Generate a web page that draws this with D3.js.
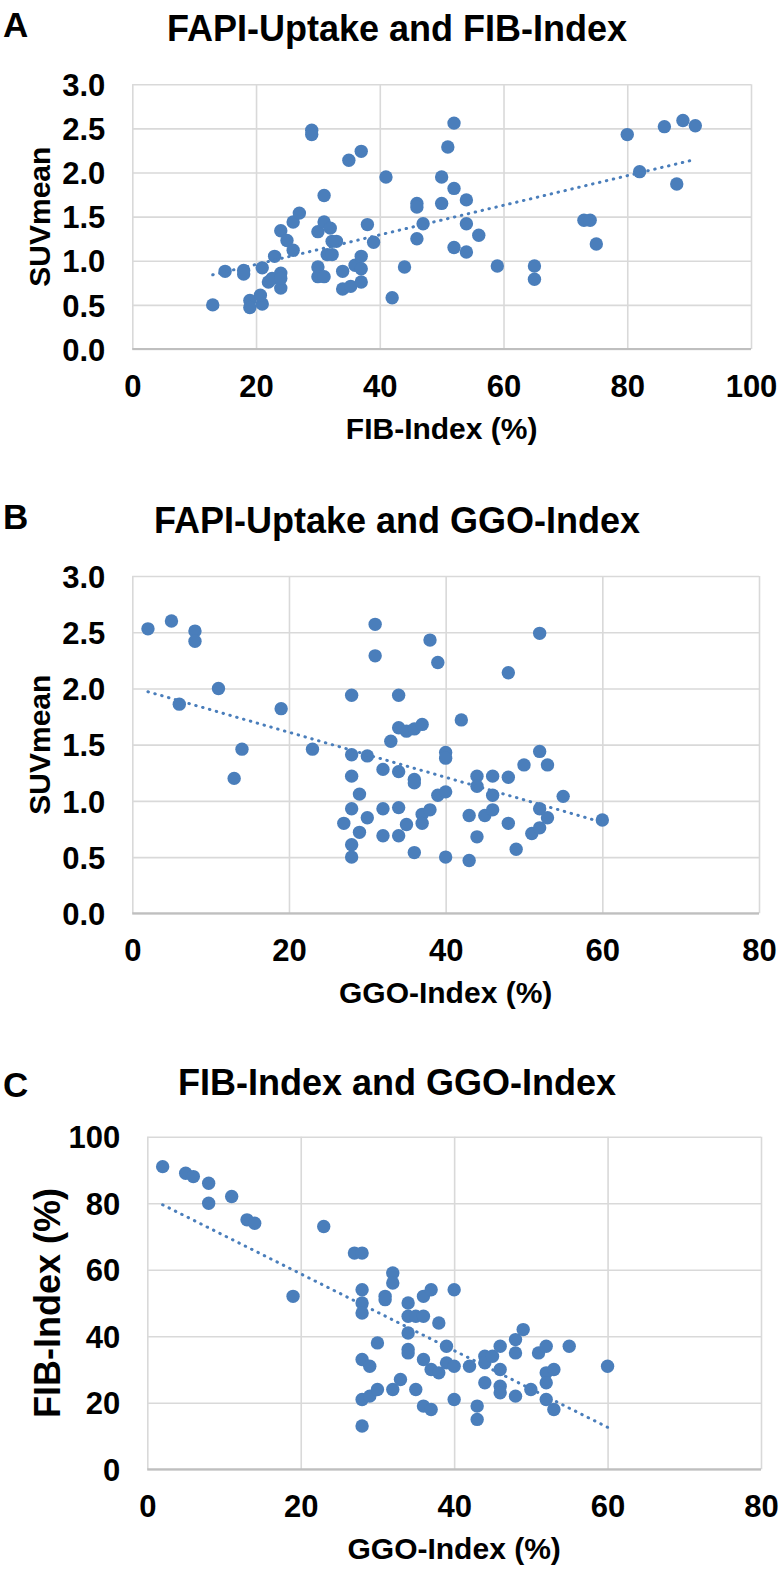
<!DOCTYPE html>
<html><head><meta charset="utf-8">
<script src="https://cdn.jsdelivr.net/npm/d3@7"></script>
<style>
html,body{margin:0;padding:0;background:#fff;}
text{font-family:"Liberation Sans",Arial,sans-serif;font-weight:bold;fill:#000;}
</style></head><body>
<svg id="chart" width="781" height="1573"></svg>
<script>
// ---- Data ----
// Panel A: FIB-Index (%) vs SUVmean
const fibA = [13,15,18,18,19,19,21,21,20.7,22,22.6,23,24,24,24,24,25,26,26,27,29,29,30,30,30,31,31,31,32,32.3,33,31.5,32.3,34,34,35,35.3,36,37,37,37,37,38,39,41,42,44,46,46,46,47,50,50,51,52,52,52,54,54,54,56,59,65,65,73,74,75,80,82,86,88,89,91];
const suvA = [0.50,0.88,0.89,0.85,0.55,0.47,0.92,0.51,0.61,0.76,0.80,1.05,0.69,0.86,0.80,1.34,1.23,1.12,1.44,1.54,2.48,2.43,1.33,0.93,0.82,0.82,1.74,1.44,1.37,1.22,1.22,1.07,1.07,0.88,0.68,2.14,0.71,0.95,2.24,1.05,0.91,0.76,1.41,1.21,1.95,0.58,0.93,1.65,1.61,1.25,1.42,1.95,1.65,2.29,2.56,1.82,1.15,1.69,1.42,1.10,1.29,0.94,0.94,0.79,1.46,1.46,1.19,2.43,2.01,2.52,1.87,2.59,2.53];
// Panel B: GGO-Index (%) vs SUVmean
const ggoB = [2,5,8,8,6,11,14,13,19,23,28,28,28,28,28,28,27,29,29,30,30,31,31,32,32,32,33,34,34,34,34,34,35,35,36,36,36,36,37,37,37,38,38,39,39,40,40,40,40,42,43,43,44,44,44,45,46,46,46,48,48,48,49,50,51,52,52,52,52,53,53,55,60];
const suvB = [2.53,2.60,2.51,2.42,1.86,2.00,1.46,1.20,1.82,1.46,1.94,1.41,1.22,0.93,0.61,0.50,0.80,1.06,0.72,1.40,0.85,2.57,2.29,1.28,0.93,0.69,1.53,1.94,1.65,1.26,0.94,0.69,1.62,0.79,1.19,1.16,0.54,1.64,1.68,0.88,0.80,2.43,0.92,2.23,1.05,1.08,1.43,1.38,0.50,1.72,0.87,0.47,1.22,1.13,0.68,0.87,1.22,1.05,0.92,2.14,1.21,0.80,0.57,1.32,0.71,2.49,1.44,0.93,0.76,1.32,0.85,1.04,0.83];
// Panel C: GGO-Index (%) vs FIB-Index (%)
const ggoC = [2,5,6,8,8,11,13,14,19,23,27,28,28,28,28,28,28,28,29,29,30,30,31,31,32,32,32,33,34,34,34,34,34,35,35,36,36,36,36,37,37,37,38,38,39,39,40,40,40,42,43,43,44,44,44,45,46,46,46,46,48,48,48,49,50,51,52,52,52,52,53,53,55,60];
const fibC = [91,89,88,86,80,82,75,74,52,73,65,65,54,50,47,33,21,13,31,22,38,24,52,51,59,56,24,27,50,46,41,36,35,46,24,52,46,33,19,54,30,18,44,29,37,32,54,31,21,31,19,15,34,32,26,34,37,30,25,23,39,35,22,42,24,35,37,29,26,21,30,18,37,31];

const panelLetters = ["A","B","C"];
const titles = ["FAPI-Uptake and FIB-Index","FAPI-Uptake and GGO-Index","FIB-Index and GGO-Index"];
const xTitles = ["FIB-Index (%)","GGO-Index (%)","GGO-Index (%)"];
const yTitles = ["SUVmean","SUVmean","FIB-Index (%)"];
const xTicksA = [0,20,40,60,80,100];
const xTicksBC = [0,20,40,60,80];
const yTicksSUV = [0,0.5,1,1.5,2,2.5,3];
const yTicksFIB = [0,20,40,60,80,100];

// ---- Layout ----
const svg = d3.select("#chart");
svg.append("rect").attr("width",781).attr("height",1573).attr("fill","#fff");

const COLOR = "#4a7ebb";
const GRID = "#d9d9d9";
const FONT = '"Liberation Sans",Arial,sans-serif';

const panels = [
  {x:fibA,y:suvA,xd:[0,100],yd:[0,3],xt:xTicksA,yt:yTicksSUV,yf:d3.format(".1f"),
   L:132.3,R:751,T:84.3,B:349, letterY:37, titleY:41, ytSize:30, ytX:50},
  {x:ggoB,y:suvB,xd:[0,80],yd:[0,3],xt:xTicksBC,yt:yTicksSUV,yf:d3.format(".1f"),
   L:132.3,R:759,T:576,B:913.3, letterY:529, titleY:533, ytSize:30, ytX:50},
  {x:ggoC,y:fibC,xd:[0,80],yd:[0,100],xt:xTicksBC,yt:yTicksFIB,yf:d3.format("d"),
   L:147.3,R:761,T:1136.7,B:1469.3, letterY:1097, titleY:1095, ytSize:36, ytX:60}
];

panels.forEach((p,i)=>{
  const g = svg.append("g");
  const xs = d3.scaleLinear().domain(p.xd).range([p.L,p.R]);
  const ys = d3.scaleLinear().domain(p.yd).range([p.B,p.T]);

  // gridlines via axes
  const gx = g.append("g").attr("transform",`translate(0,${p.B})`)
    .call(d3.axisBottom(xs).tickValues(p.xt).tickSize(-(p.B-p.T)).tickFormat(""));
  gx.select(".domain").remove();
  gx.selectAll("line").attr("stroke",GRID).attr("stroke-width",1.6);
  const gy = g.append("g").attr("transform",`translate(${p.L},0)`)
    .call(d3.axisLeft(ys).tickValues(p.yt).tickSize(-(p.R-p.L)).tickFormat(""));
  gy.select(".domain").remove();
  gy.selectAll("line").attr("stroke",GRID).attr("stroke-width",1.6);
  // bottom axis line
  g.append("line").attr("x1",p.L).attr("x2",p.R).attr("y1",p.B).attr("y2",p.B)
    .attr("stroke","#bfbfbf").attr("stroke-width",2.2);

  // tick labels
  const xl = g.append("g").attr("transform",`translate(0,${p.B+48})`)
    .call(d3.axisBottom(xs).tickValues(p.xt).tickSize(0).tickPadding(0).tickFormat(d3.format("d")));
  xl.select(".domain").remove();
  xl.selectAll("text").attr("dy",0).attr("y",0).style("font-size","31px")
    .style("font-family",FONT).style("font-weight","bold").attr("fill","#000");
  const yl = g.append("g").attr("transform",`translate(${p.L-27},0)`)
    .call(d3.axisLeft(ys).tickValues(p.yt).tickSize(0).tickPadding(0).tickFormat(p.yf));
  yl.select(".domain").remove();
  yl.selectAll("text").attr("dy","0.36em").attr("x",0).style("font-size","31px")
    .style("font-family",FONT).style("font-weight","bold").attr("fill","#000");

  // points
  const pts = p.x.map((v,k)=>[v,p.y[k]]);
  g.append("g").selectAll("circle").data(pts).join("circle")
    .attr("cx",d=>xs(d[0])).attr("cy",d=>ys(d[1])).attr("r",6.7).attr("fill",COLOR);

  // linear trendline (least squares)
  const mx = d3.mean(pts,d=>d[0]), my = d3.mean(pts,d=>d[1]);
  const sxy = d3.sum(pts,d=>(d[0]-mx)*(d[1]-my)), sxx = d3.sum(pts,d=>(d[0]-mx)**2);
  const slope = sxy/sxx, icpt = my - slope*mx;
  const [x0,x1] = d3.extent(pts,d=>d[0]);
  g.append("path").attr("d",d3.line()([[xs(x0),ys(icpt+slope*x0)],[xs(x1),ys(icpt+slope*x1)]]))
    .attr("stroke",COLOR).attr("stroke-width",3).attr("stroke-linecap","round")
    .attr("stroke-dasharray","0.5,6.6").attr("fill","none");

  // titles
  svg.append("text").attr("x",3).attr("y",p.letterY).style("font-size","35px").text(panelLetters[i]);
  svg.append("text").attr("x",397).attr("y",p.titleY).attr("text-anchor","middle").style("font-size","36px").text(titles[i]);
  svg.append("text").attr("x",(p.L+p.R)/2).attr("y",p.B+90).attr("text-anchor","middle").style("font-size","30px").text(xTitles[i]);
  svg.append("text").attr("transform",`translate(${p.ytX},${(p.T+p.B)/2}) rotate(-90)`)
    .attr("text-anchor","middle").style("font-size",p.ytSize+"px").text(yTitles[i]);
});
</script></body></html>
